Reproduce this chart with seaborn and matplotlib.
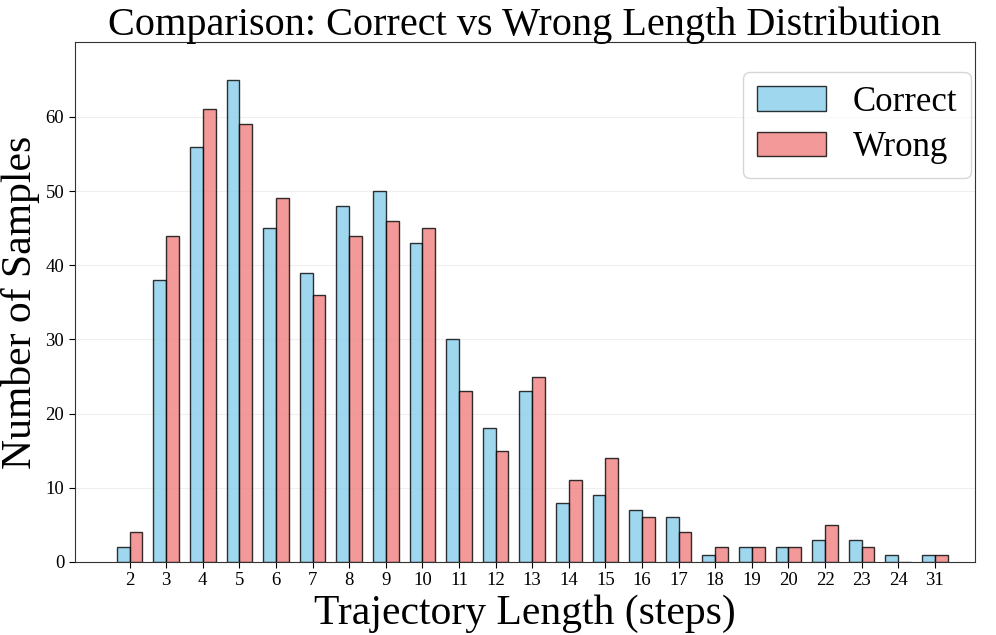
import numpy as np
import pandas as pd
import matplotlib
matplotlib.use("Agg")
import matplotlib.pyplot as plt
import seaborn as sns

# ── Data ─────────────────────────────────────────────────────
lengths = ["2", "3", "4", "5", "6", "7", "8", "9", "10", "11", "12", "13",
           "14", "15", "16", "17", "18", "19", "20", "22", "23", "24", "31"]
correct = [2, 38, 56, 65, 45, 39, 48, 50, 43, 30, 18, 23,
           8, 9, 7, 6, 1, 2, 2, 3, 3, 1, 1]
wrong   = [4, 44, 61, 59, 49, 36, 44, 46, 45, 23, 15, 25,
           11, 14, 6, 4, 2, 2, 2, 5, 2, 0, 1]
yticks  = [0, 10, 20, 30, 40, 50, 60]

df = pd.DataFrame({
    "length": lengths * 2,
    "count": correct + wrong,
    "group": ["Correct"] * len(lengths) + ["Wrong"] * len(lengths),
})

sns.set_style("white")
plt.rcParams["font.family"] = ["Liberation Serif", "DejaVu Serif"]
plt.rcParams["text.color"] = "black"
plt.rcParams["axes.labelcolor"] = "black"
plt.rcParams["xtick.color"] = "black"
plt.rcParams["ytick.color"] = "black"

fig, ax = plt.subplots(figsize=(9.96, 6.35), dpi=100)
sns.barplot(data=df, x="length", y="count", hue="group", order=lengths,
            palette={"Correct": "skyblue", "Wrong": "lightcoral"},
            width=0.7, alpha=0.8, edgecolor="black", linewidth=1.0,
            saturation=1, ax=ax)

ax.set_xlim(-1.5, 23.1)
ax.set_ylim(0, 70.1)
ax.set_yticks(yticks)
ax.set_xlabel("Trajectory Length (steps)", fontsize=30)
ax.set_ylabel("Number of Samples", fontsize=30)
ax.set_title("Comparison: Correct vs Wrong Length Distribution", fontsize=29, pad=5)
ax.tick_params(axis="both", labelsize=13.5, length=4, direction="out",
               bottom=True, left=True, colors="black")
ax.grid(axis="y", alpha=0.3)
ax.set_axisbelow(True)
for sp in ax.spines.values():
    sp.set_color("#333333")

leg = ax.legend(fontsize=25, loc="upper right", bbox_to_anchor=(0.9955, 0.942),
                borderaxespad=0, frameon=True, handlelength=2.0, handleheight=0.72,
                handletextpad=0.75, labelspacing=0.35, borderpad=0.4)
leg.set_title(None)

plt.subplots_adjust(left=0.075, right=0.979, top=0.934, bottom=0.115)
plt.savefig("out.png", dpi=100)
plt.close()
